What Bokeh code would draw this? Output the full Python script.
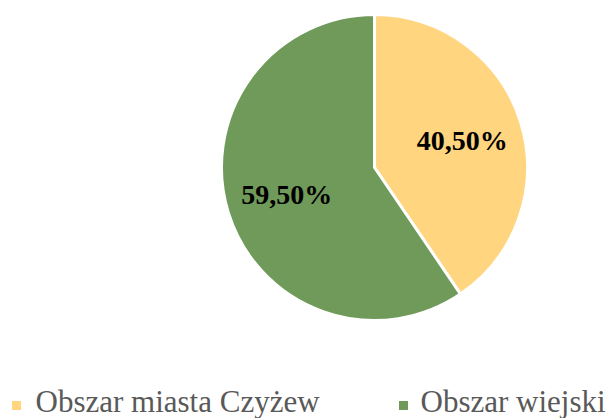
import math
from bokeh.plotting import figure
from bokeh.models import ColumnDataSource
from bokeh.core.properties import value
from bokeh.embed import file_html
from bokeh.resources import INLINE

categories = ["Obszar miasta Czyżew", "Obszar wiejski"]
shares = [40.5, 59.5]
labels = ["40,50%", "59,50%"]
colors = ["#FFD57F", "#6F9A5A"]

W, H = 606, 418
p = figure(width=W, height=H, x_range=(0, W), y_range=(0, H),
           output_backend="svg", toolbar_location=None, min_border=0,
           match_aspect=False)
p.axis.visible = False
p.grid.visible = False
p.outline_line_color = None
p.background_fill_color = "white"
p.border_fill_color = "white"

cx, cy, r = 374, 251, 153
total = sum(shares)
starts, ends, lx, ly = [], [], [], []
a = math.pi / 2
for s in shares:
    span = 2 * math.pi * s / total
    starts.append(a)
    ends.append(a - span)
    mid = a - span / 2
    lx.append(cx + 0.6 * r * math.cos(mid))
    ly.append(cy + 0.6 * r * math.sin(mid))
    a -= span

src = ColumnDataSource(dict(start=starts, end=ends, color=colors, lx=lx, ly=ly,
                            label=labels, cat=categories))
p.wedge(x=cx, y=cy, radius=r, radius_units="screen", start_angle="start",
        end_angle="end", direction="clock", fill_color="color",
        line_color="white", line_width=3, source=src)

p.text(x="lx", y="ly", text="label", source=src, text_align="center",
       text_baseline="middle", text_font=value("Liberation Serif"),
       text_font_style="bold", text_font_size="28px", text_color="black")

# legend
leg_sq_x = [16, 403]
leg_tx = [35, 420]
lsrc = ColumnDataSource(dict(sx=leg_sq_x, sy=[13, 13], tx=leg_tx, ty=[17, 17],
                             cat=categories, color=colors))
p.scatter(x="sx", y="sy", marker="square", size=9, fill_color="color",
          line_color=None, source=lsrc)
p.text(x="tx", y="ty", text="cat", source=lsrc, text_align="left",
       text_baseline="middle", text_font=value("Liberation Serif"),
       text_font_size="31px", text_color="#595959")

open("out.html", "w").write(file_html(p, INLINE))
